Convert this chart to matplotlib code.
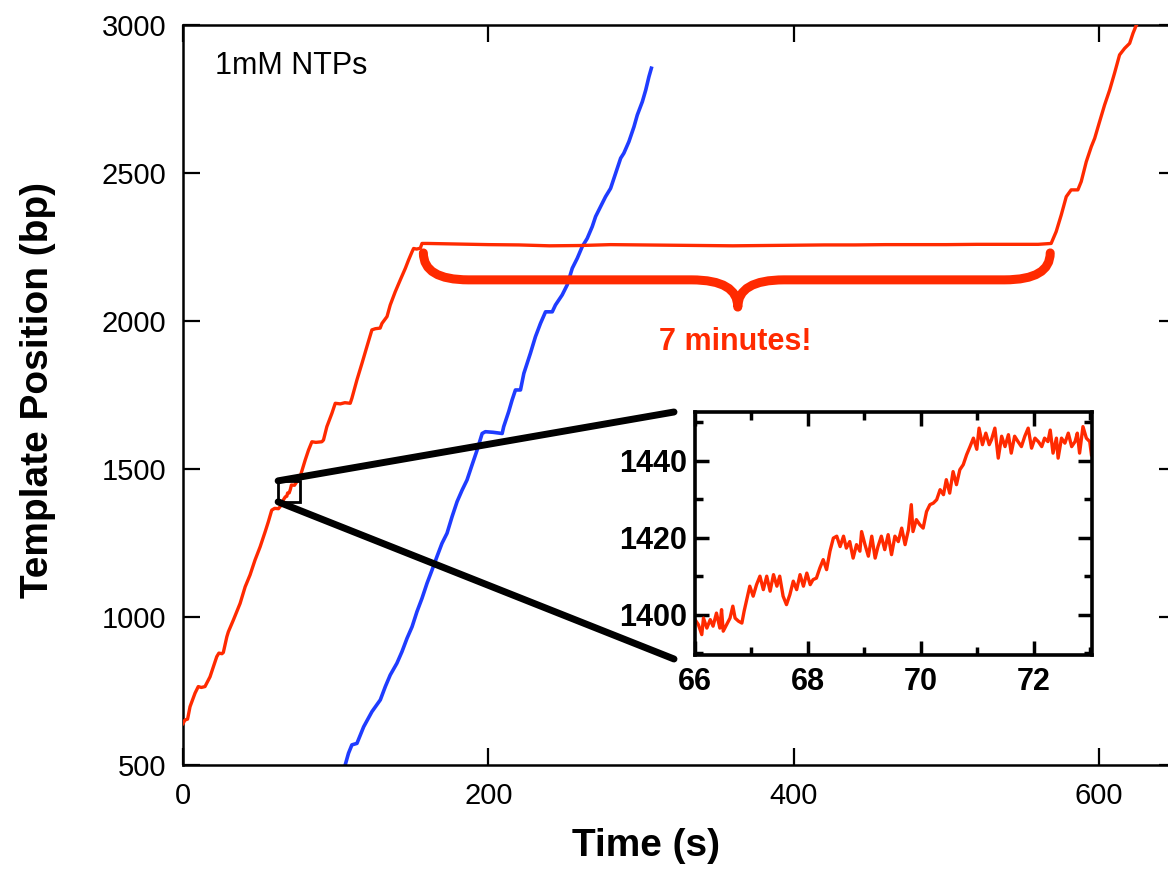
import matplotlib
matplotlib.use("Agg")
import matplotlib.pyplot as plt
from matplotlib.path import Path
from matplotlib.patches import PathPatch, Rectangle, ConnectionPatch

plt.rcParams['font.family'] = ['Liberation Sans', 'DejaVu Sans']

# ---------------- data ----------------
red_t = [0, 1.3, 3, 4.6, 7.9, 10, 12, 14.4, 17.7, 22.1, 23.5, 25.5, 26.4, 28.7, 29.7, 33,
         37.4, 40.7, 43.9, 47.2, 50.5, 53.8, 55.9, 58.1, 60, 62.5, 63.6, 66, 67, 68, 68.5,
         69.5, 70.3, 71, 73, 76.7, 80, 82.2, 84.4, 87, 90.9, 92, 94.2, 97.5, 99.7, 103,
         106, 109.5, 110.6, 113.9, 117.2, 120.4, 123.7, 126, 129.1, 130.3, 133.6, 135.7,
         139, 142.3, 145.6, 147.7, 150, 151, 153, 155.4, 156.5, 160, 180, 200, 220, 240,
         260, 280, 300, 320, 340, 360, 380, 400, 420, 440, 460, 480, 500, 520, 540, 560,
         568.5, 571.8, 575.1, 578.4, 581.6, 586, 588.2, 591.5, 594.8, 597, 600.2, 603.5,
         606.8, 610, 613.3, 616.6, 619.9, 622.1, 624.3, 626]
red_bp = [640, 652, 655, 697, 743, 765, 762, 765, 798, 866, 878, 876, 880, 933, 950, 990,
          1046, 1102, 1142, 1193, 1237, 1288, 1322, 1361, 1367, 1366, 1373, 1398, 1406, 1408, 1419,
          1419, 1431, 1446, 1445, 1474, 1530, 1564, 1592, 1590, 1592, 1598, 1643, 1688, 1722, 1720,
          1724, 1722, 1739, 1801, 1857, 1913, 1970, 1974, 1976, 1992, 2015, 2054,
          2099, 2139, 2178, 2206, 2234, 2245, 2243, 2246, 2262, 2262, 2260, 2258, 2257, 2254,
          2255, 2258, 2257, 2256, 2255, 2254, 2255, 2256, 2257, 2257, 2258, 2258, 2258, 2259, 2259, 2259,
          2262, 2302, 2358, 2420, 2443, 2443, 2471, 2538, 2589, 2617, 2673, 2730,
          2780, 2837, 2899, 2921, 2938, 2972, 3000, 3010]

blue_t = [105, 106.2, 108.4, 110.6, 113.9, 118.3, 123.7, 129.2, 132.5, 135.7, 140.1, 143.4,
          146.7, 150, 153.2, 156.5, 159.8, 163.1, 166.3, 169.6, 172.9, 176.2, 179.5, 182.8,
          186, 189.3, 192.6, 195.9, 198, 203, 209, 210, 213.3, 215.5, 217.7, 221, 223.2,
          227.5, 230.8, 234.1, 237.4, 241.8, 243.9, 248.3, 251.6, 254.9, 258.2, 261.4, 264.7,
          268, 270.2, 273.4, 276.7, 280, 283.3, 286.6, 288.7, 292, 295.3, 297.5, 300.8, 303,
          305.1, 306.7]
blue_bp = [470, 500, 540, 568, 573, 629, 680, 720, 765, 804, 844, 883,
           928, 967, 1018, 1063, 1114, 1159, 1204, 1249, 1283, 1339, 1390, 1429,
           1463, 1514, 1564, 1620, 1626, 1624, 1620, 1643, 1694, 1733, 1767, 1767, 1823,
           1891, 1947, 1992, 2031, 2031, 2054, 2088, 2122, 2178, 2212, 2251, 2279,
           2319, 2353, 2386, 2420, 2448, 2499, 2550, 2567, 2606, 2656, 2696, 2741, 2780,
           2825, 2854]

inset_t = [66.00, 66.06, 66.12, 66.15, 66.21, 66.27, 66.32, 66.38, 66.44, 66.47, 66.50, 66.56,
           66.62, 66.67, 66.71, 66.77, 66.83, 66.87, 66.91, 66.97, 67.03, 67.09, 67.15, 67.21,
           67.27, 67.33, 67.39, 67.45, 67.50, 67.56, 67.62, 67.68, 67.74, 67.80, 67.86, 67.92,
           67.98, 68.04, 68.09, 68.15, 68.21, 68.27, 68.33, 68.39, 68.45, 68.51, 68.57, 68.63,
           68.68, 68.74, 68.80, 68.86, 68.92, 68.95, 69.01, 69.07, 69.13, 69.19, 69.24, 69.30,
           69.36, 69.42, 69.48, 69.54, 69.60, 69.66, 69.72, 69.78, 69.83, 69.86, 69.92, 69.98,
           70.04, 70.10, 70.16, 70.22, 70.28, 70.34, 70.40, 70.45, 70.51, 70.57, 70.63, 70.69,
           70.75, 70.81, 70.87, 70.93, 70.99, 71.03, 71.09, 71.15, 71.21, 71.25, 71.31, 71.37,
           71.43, 71.49, 71.55, 71.60, 71.66, 71.72, 71.78, 71.84, 71.90, 71.96, 72.02, 72.08,
           72.14, 72.19, 72.25, 72.29, 72.34, 72.40, 72.43, 72.49, 72.55, 72.61, 72.67, 72.73,
           72.77, 72.81, 72.87, 72.93, 72.99, 73.02]
inset_bp = [1398.7, 1397.4, 1394.8, 1399.1, 1396.5, 1398.7, 1397.0, 1400.4, 1396.5, 1401.3, 1395.7, 1397.4,
            1399.1, 1402.2, 1399.1, 1398.3, 1397.8, 1400.9, 1403.5, 1407.4, 1404.8, 1407.8, 1410.0, 1406.5,
            1410.0, 1406.1, 1410.4, 1407.4, 1410.0, 1404.8, 1402.6, 1405.2, 1408.7, 1406.5, 1410.4, 1407.4,
            1410.8, 1407.8, 1409.1, 1409.5, 1412.1, 1414.3, 1411.7, 1416.5, 1419.9, 1420.4, 1417.7, 1420.4,
            1417.3, 1419.0, 1414.7, 1418.2, 1416.5, 1421.6, 1418.2, 1415.2, 1420.4, 1414.7, 1417.7, 1420.4,
            1416.9, 1420.8, 1415.6, 1420.4, 1419.0, 1422.5, 1418.2, 1422.1, 1428.6, 1421.6, 1424.7, 1423.4,
            1422.5, 1426.8, 1428.6, 1429.0, 1429.9, 1432.5, 1431.2, 1435.1, 1431.6, 1437.2, 1433.8, 1437.7,
            1439.0, 1441.6, 1443.7, 1445.9, 1443.0, 1448.5, 1444.2, 1447.2, 1444.2, 1445.5, 1448.5, 1440.7,
            1446.4, 1443.7, 1446.8, 1442.0, 1446.4, 1445.0, 1443.7, 1446.4, 1448.5, 1443.3, 1445.9, 1445.0,
            1443.7, 1445.9, 1445.0, 1448.0, 1442.0, 1445.9, 1440.7, 1445.9, 1444.6, 1447.2, 1443.7, 1445.0,
            1447.2, 1442.0, 1448.9, 1445.9, 1445.0, 1441.6]

main_xticks = [0, 200, 400, 600]
main_yticks = [500, 1000, 1500, 2000, 2500, 3000]
inset_xticks = [66, 68, 70, 72]
inset_yticks = [1400, 1420, 1440]

RED = '#ff2a00'
BLUE = '#1f3cff'

# ---------------- figure ----------------
W, H = 1168, 872
fig = plt.figure(figsize=(W / 100, H / 100), dpi=100)
ax = fig.add_axes([183 / W, 1 - 765 / H, 992.6 / W, 740 / H])

ax.plot(blue_t, blue_bp, color=BLUE, lw=2.6, zorder=2, solid_joinstyle='round')
ax.plot(red_t, red_bp, color=RED, lw=2.4, zorder=3, solid_joinstyle='round')

ax.set_xlim(0, 650)
ax.set_ylim(500, 3000)
ax.set_xticks(main_xticks)
ax.set_yticks(main_yticks)
ax.tick_params(direction='in', length=12, width=1.6, top=True, right=True,
               labelsize=21, pad=12)
for s in ax.spines.values():
    s.set_linewidth(1.8)

ax.set_xlabel('Time (s)', fontsize=28, fontweight='bold')
ax.xaxis.set_label_coords((646 - 183) / 992.6, -0.085)
ax.set_ylabel('Template Position (bp)', fontsize=28, fontweight='bold')
ax.yaxis.set_label_coords(-0.128, 0.507)

ax.text(21, 2834, '1mM NTPs', fontsize=22, va='baseline', ha='left')

# brace
M, C, L = Path.MOVETO, Path.CURVE3, Path.LINETO
verts = [(157.4, 2230), (157.4, 2139), (187, 2139), (333, 2139), (363.3, 2139), (363.3, 2047),
         (363.3, 2139), (393.6, 2139), (538, 2139), (567.9, 2139), (567.9, 2230)]
codes = [M, C, C, L, C, C, C, C, L, C, C]
ax.add_patch(PathPatch(Path(verts, codes), fill=False, lw=6.5, edgecolor=RED,
                       capstyle='round', joinstyle='round', zorder=4))
ax.text(361.5, 1929, '7 minutes!', fontsize=22, fontweight='bold', color=RED,
        ha='center', va='center', zorder=5)

# zoom box and connecting lines
ax.add_patch(Rectangle((62.3, 1389), 14.4, 71, fill=False, lw=2, edgecolor='black', zorder=6))
for ya, yb in [(1460, 412), (1389, 659)]:
    con = ConnectionPatch(xyA=(62.3, ya), coordsA=ax.transData,
                          xyB=(674 / W, 1 - yb / H), coordsB=fig.transFigure,
                          color='black', lw=5, zorder=7)
    fig.add_artist(con)

# inset
axi = fig.add_axes([695 / W, 1 - 655 / H, 397 / W, 243 / H])
axi.plot(inset_t, inset_bp, color=RED, lw=2.4)
axi.set_xlim(66, 73.03)
axi.set_ylim(1389.5, 1452.7)
axi.set_xticks(inset_xticks)
axi.set_xticklabels([str(v) for v in inset_xticks], fontweight='bold')
axi.set_yticks(inset_yticks)
axi.set_yticklabels([str(v) for v in inset_yticks], fontweight='bold')
axi.set_xticks([67, 69, 71, 73], minor=True)
axi.set_yticks([1390, 1410, 1430, 1450], minor=True)
axi.tick_params(which='both', direction='in', top=True, right=True, width=2.5)
axi.tick_params(which='major', length=10, labelsize=22)
axi.tick_params(axis='x', which='major', pad=9)
axi.tick_params(axis='y', which='major', pad=6)
axi.tick_params(which='minor', length=6)
for s in axi.spines.values():
    s.set_linewidth(2.6)

fig.savefig('out.png', dpi=100)
